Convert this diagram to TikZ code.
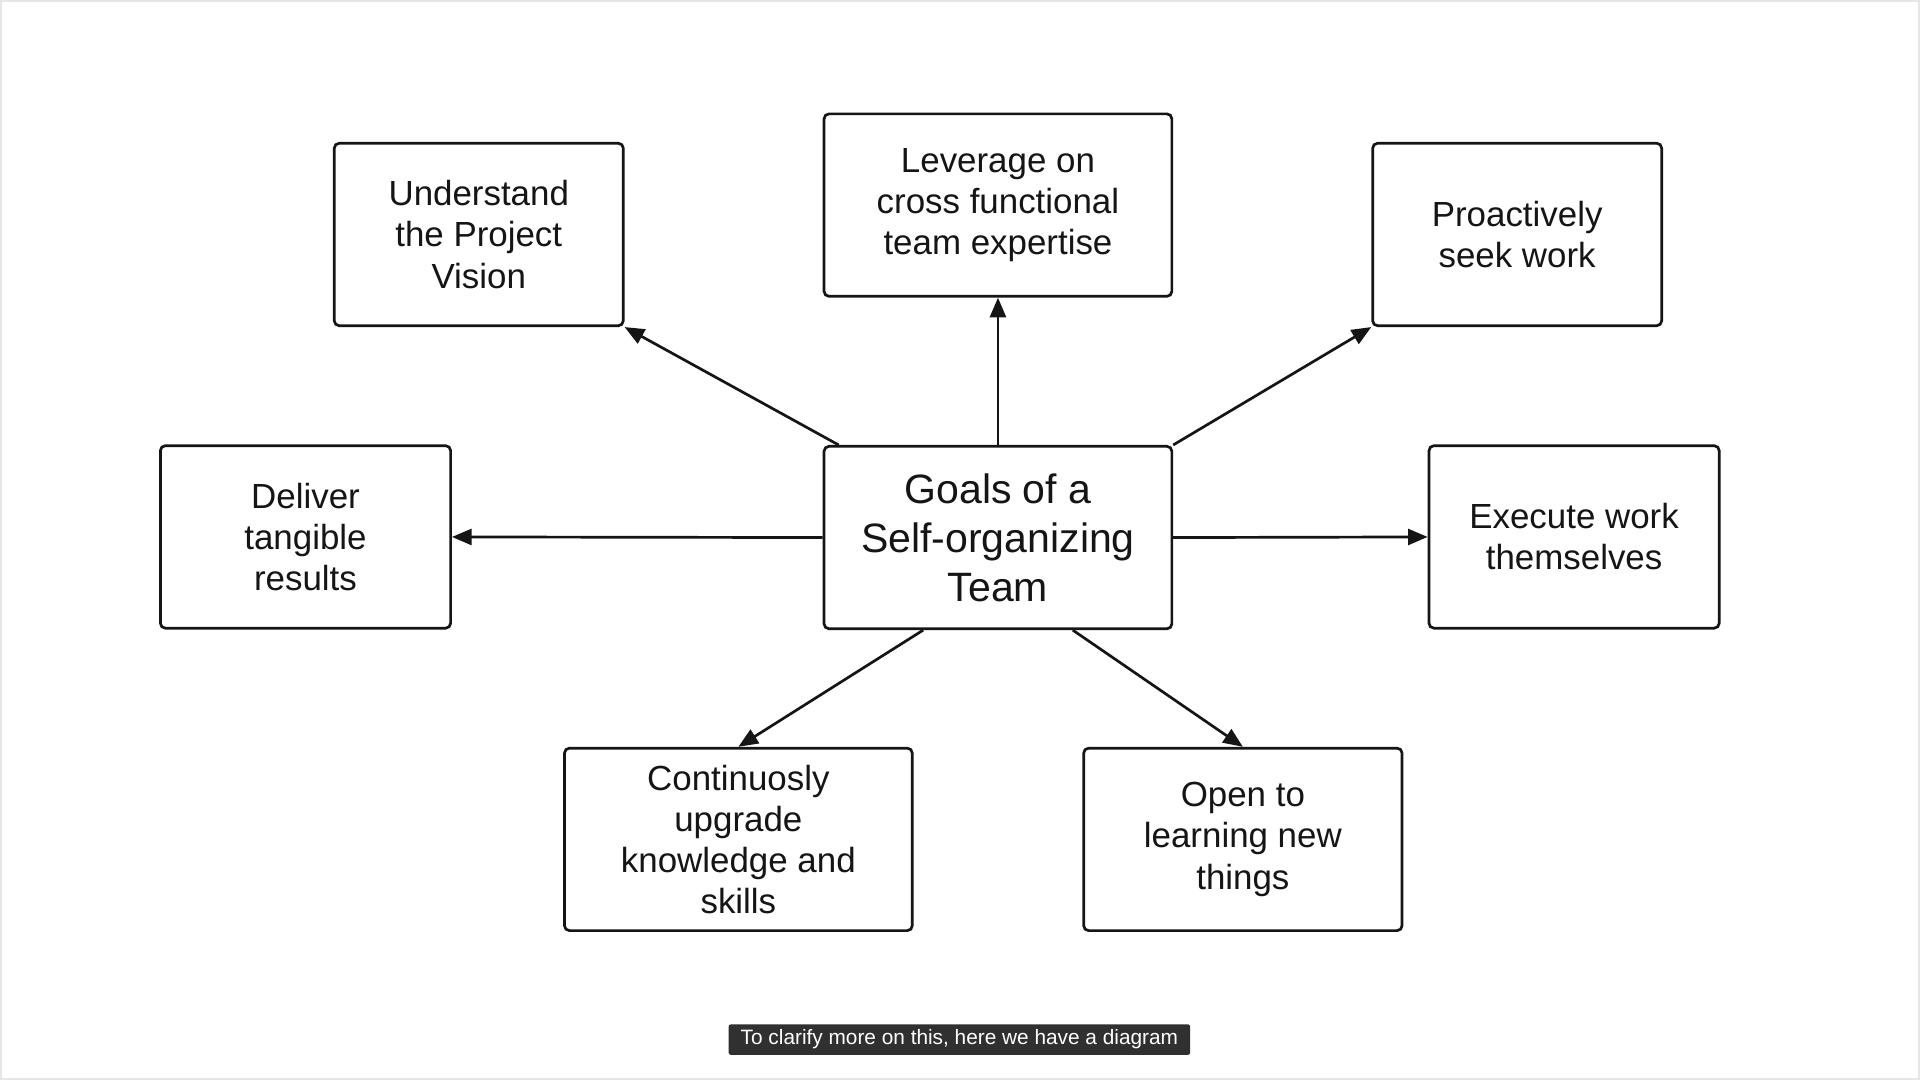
\documentclass[tikz,border=0pt]{standalone}
\usepackage{fontspec}
\setmainfont{Liberation Sans}
\usetikzlibrary{arrows.meta,calc}
\definecolor{capbg}{HTML}{303030}
\definecolor{framegray}{HTML}{E6E6E6}
\definecolor{inkcol}{HTML}{151515}
\tikzset{
  goalbox/.style={draw=inkcol, text=inkcol, line width=2.2pt, rounded corners=4pt, align=center,
    inner sep=0pt, minimum height=149pt, font=\fontsize{28.5}{33.6}\selectfont},
  mainbox/.style={goalbox, font=\fontsize{33.5}{40}\selectfont},
  goalarrow/.style={draw=inkcol, line width=2.2pt, -{Triangle[length=16pt,width=13pt]}},
  caption/.style={fill=capbg, text=white, rounded corners=2pt, inner sep=0pt,
    minimum width=377pt, minimum height=25pt, font=\fontsize{17}{20}\selectfont}
}
\begin{document}
\begin{tikzpicture}[x=1pt,y=-1pt]
\useasboundingbox (0,0) rectangle (1568,882);
\fill[white] (0,0) rectangle (1568,882);
\draw[framegray, line width=1.5pt] (0.75,0.75) rectangle (1567.25,881.25);

\node[mainbox, minimum width=284pt] (c) at (815,439) {Goals of a\\Self-organizing\\Team};

\node[goalbox, minimum width=236pt] (u) at (391,191.5) {Understand\\the Project\\Vision};
\node[goalbox, minimum width=284pt] (l) at (815,167.5) {Leverage on\\cross functional\\team expertise};
\node[goalbox, minimum width=236pt] (p) at (1239,191.5) {Proactively\\seek work};
\node[goalbox, minimum width=237pt] (d) at (249.5,438.5) {Deliver\\tangible\\results};
\node[goalbox, minimum width=237pt] (e) at (1285.5,438.5) {Execute work\\themselves};
\node[goalbox, minimum width=284pt] (k) at (603,685.5) {Continuosly\\upgrade\\knowledge and\\skills};
\node[goalbox, minimum width=260pt] (o) at (1015,685.5) {Open to\\learning new\\things};

\draw[goalarrow] ([xshift=13pt]c.north west) -- (u.south east);
\draw[goalarrow] (c.north) -- (l.south);
\draw[goalarrow] (c.north east) -- (p.south west);
\draw[goalarrow] (c.west) -- (d.east);
\draw[goalarrow] (c.east) -- (e.west);
\draw[goalarrow] ([xshift=82pt]c.south west) -- (k.north);
\draw[goalarrow] ([xshift=-82pt]c.south east) -- (o.north);

\node[caption] (cap) at (783.5,849) {To clarify more on this, here we have a diagram};
\end{tikzpicture}
\end{document}
